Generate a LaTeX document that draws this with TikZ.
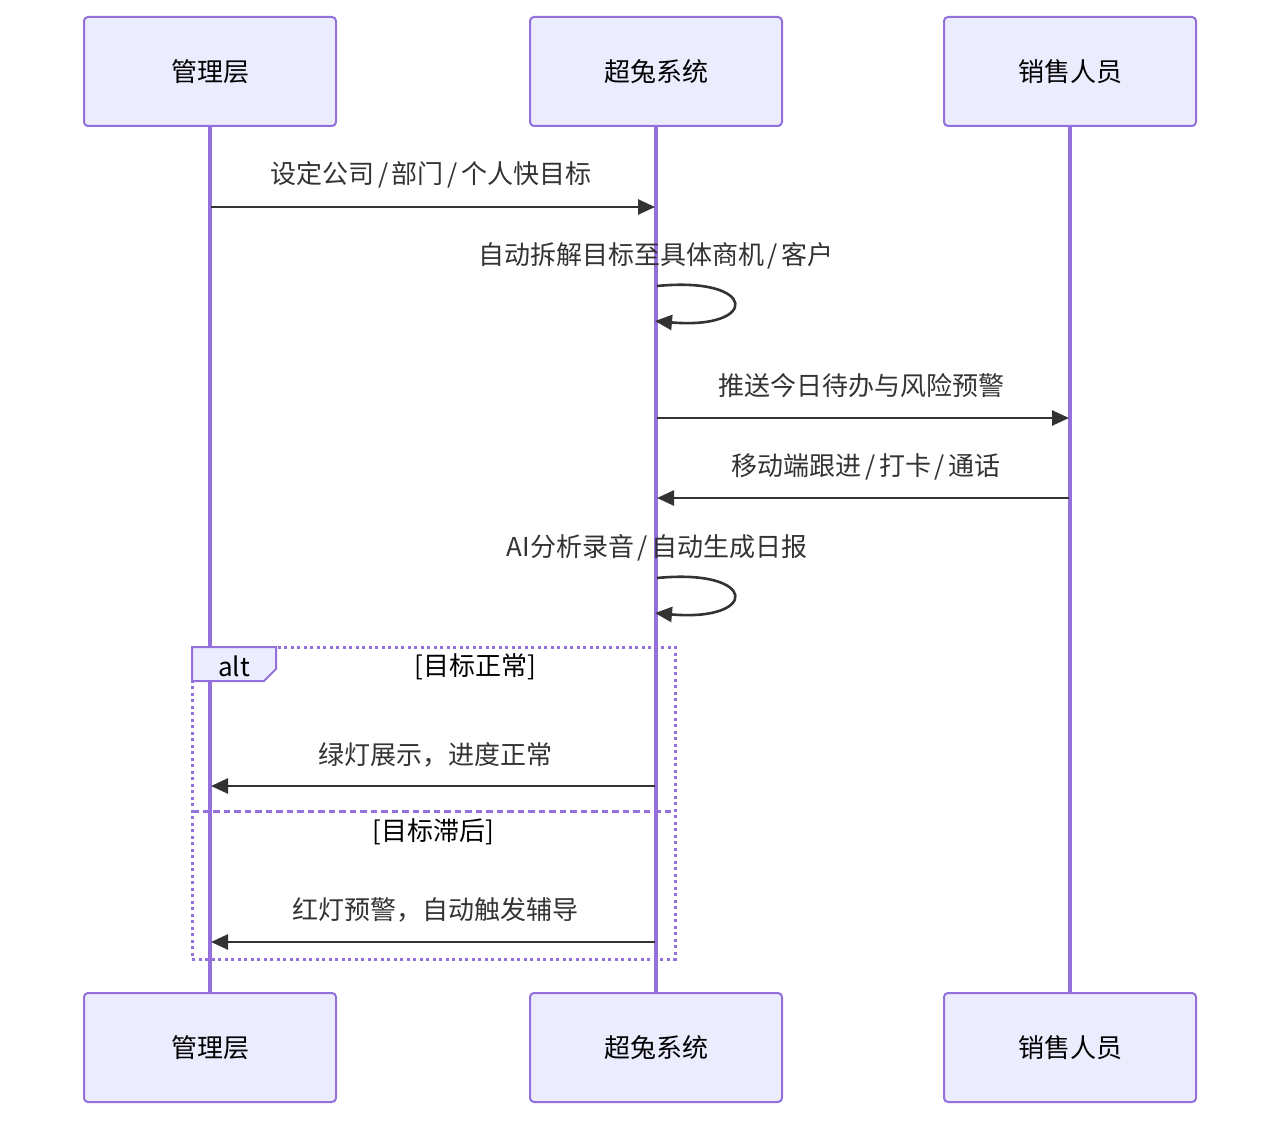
\documentclass[tikz,border=0pt]{standalone}
\usepackage{fontspec}
\setmainfont{Noto Sans CJK SC}
\usetikzlibrary{arrows.meta}
\definecolor{actfill}{HTML}{ECECFF}
\definecolor{actdraw}{HTML}{9370DB}
\definecolor{msg}{HTML}{333333}
\newcommand{\sls}{\hspace{3.5pt}/\hspace{3.5pt}}
\begin{document}
\begin{tikzpicture}[x=1pt,y=-1pt,
  font=\fontsize{26}{31}\selectfont,
  actor/.style={draw=actdraw,fill=actfill,line width=2pt,rounded corners=4pt,minimum width=252pt,minimum height=109pt,inner sep=0pt,text=black},
  life/.style={draw=actdraw,line width=3.2pt},
  msgline/.style={draw=msg,line width=2.6pt,-{Triangle[length=17pt,width=15pt]}},
  lbl/.style={text=msg,inner sep=0pt,anchor=center},
  frame/.style={draw=actdraw,line width=3pt,dash pattern=on 3pt off 3.5pt},
  sep/.style={draw=actdraw,line width=3pt,dash pattern=on 6.5pt off 4pt}
]
\useasboundingbox (0,0) rectangle (1280,1121);
% actors top
\node[actor] (a1) at (210,71.5) {管理层};
\node[actor] (a2) at (656,71.5) {超兔系统};
\node[actor] (a3) at (1070,71.5) {销售人员};
% actors bottom
\node[actor] (b1) at (210,1047.5) {管理层};
\node[actor] (b2) at (656,1047.5) {超兔系统};
\node[actor] (b3) at (1070,1047.5) {销售人员};
% lifelines
\draw[life] (a1.south) -- (b1.north);
\draw[life] (a2.south) -- (b2.north);
\draw[life] (a3.south) -- (b3.north);
% alt frame
\draw[frame] (192,647) rectangle (675,959);
\filldraw[draw=actdraw,fill=actfill,line width=2pt] (192,647) -- (276,647) -- (276,669) -- (264,681) -- (192,681) -- cycle;
\node[lbl,text=black] (altl) at (234,666) {alt};
\node[lbl,text=black] (c1) at (475,667) {[目标正常]};
\draw[sep] (192,811) -- (675,811);
\node[lbl,text=black] (c2) at (433,832) {[目标滞后]};
% coordinates on lifelines
\coordinate (m1s) at (211,207); \coordinate (m1e) at (655,207);
\coordinate (m3s) at (657,418); \coordinate (m3e) at (1069,418);
\coordinate (m4s) at (1069,498); \coordinate (m4e) at (657,498);
\coordinate (m5s) at (655,786); \coordinate (m5e) at (211,786);
\coordinate (m6s) at (655,942); \coordinate (m6e) at (211,942);
\coordinate (s1s) at (657,286); \coordinate (s1e) at (655,321);
\coordinate (s2s) at (657,578); \coordinate (s2e) at (655,613);
% messages
\node[lbl] (l1) at (431,175) {设定公司\sls 部门\sls 个人快目标};
\draw[msgline] (m1s) -- (m1e);
\node[lbl] (l2) at (656,256) {自动拆解目标至具体商机\sls 客户};
\draw[msgline] (s1s) .. controls (759,276) and (759,330) .. (s1e);
\node[lbl] (l3) at (861,386) {推送今日待办与风险预警};
\draw[msgline] (m3s) -- (m3e);
\node[lbl] (l4) at (866,467) {移动端跟进\sls 打卡\sls 通话};
\draw[msgline] (m4s) -- (m4e);
\node[lbl] (l5) at (657,548) {AI分析录音\sls 自动生成日报};
\draw[msgline] (s2s) .. controls (759,568) and (759,622) .. (s2e);
\node[lbl] (l6) at (435,755) {绿灯展示，进度正常};
\draw[msgline] (m5s) -- (m5e);
\node[lbl] (l7) at (435,910) {红灯预警，自动触发辅导};
\draw[msgline] (m6s) -- (m6e);
\end{tikzpicture}
\end{document}
